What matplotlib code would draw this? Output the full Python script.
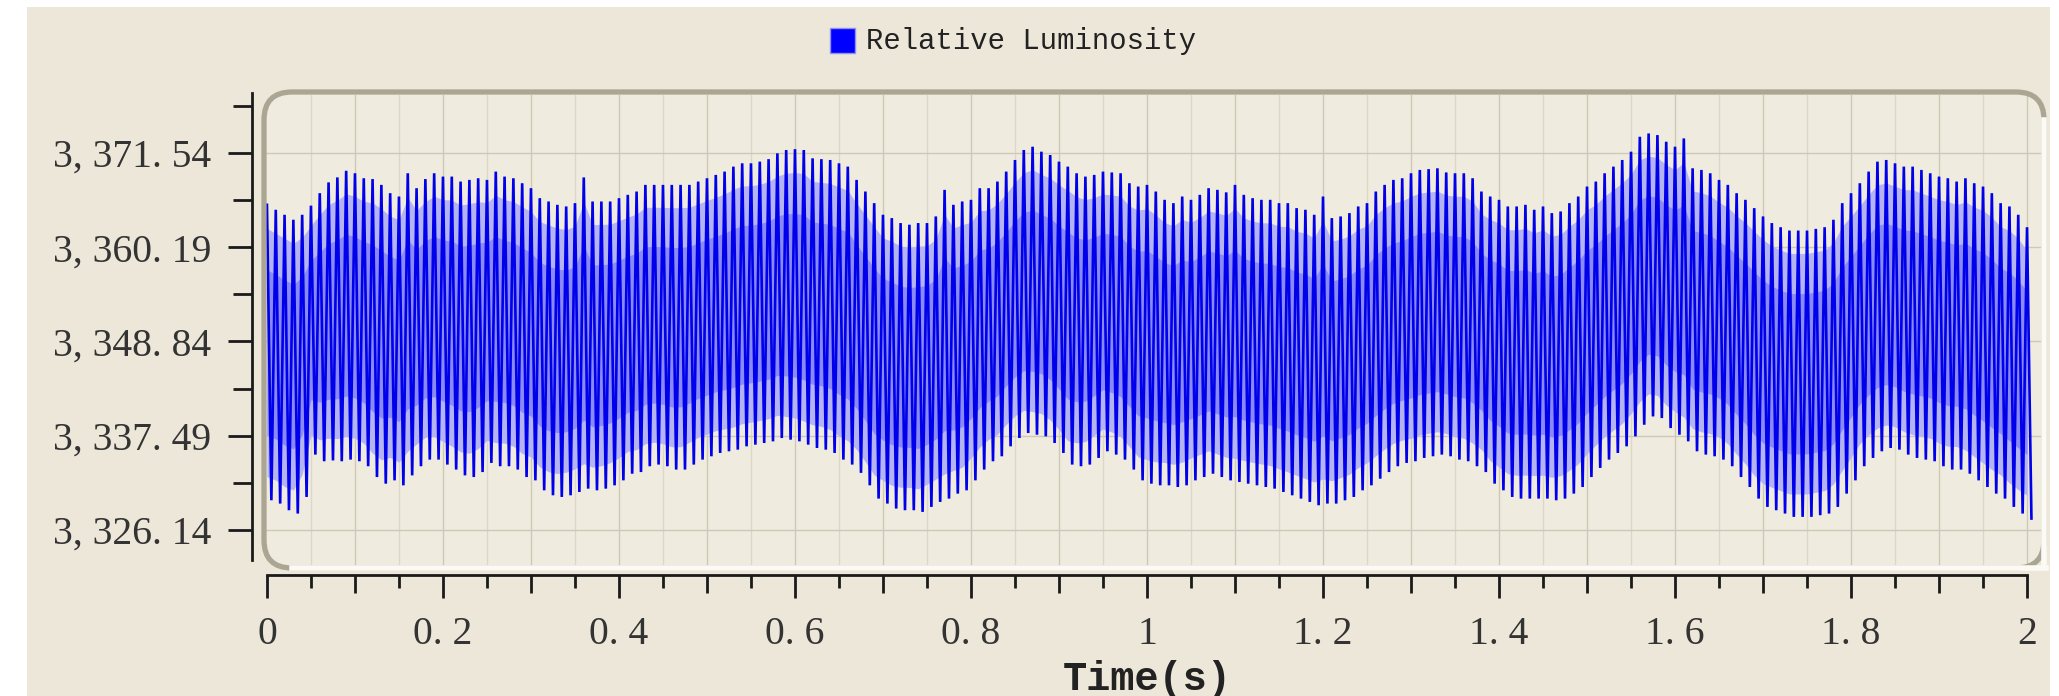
import numpy as np
import matplotlib
matplotlib.use("Agg")
import matplotlib.pyplot as plt
from matplotlib.patches import FancyBboxPatch, Rectangle
from matplotlib.lines import Line2D
from matplotlib.transforms import IdentityTransform

# ---------------- data ----------------
series_name = "Relative Luminosity"
x_label = "Time(s)"
cycle_period = 0.01          # s, one flicker cycle (100 Hz)

# peak value of every cycle, starting at t = 0
peak_values = [
    3365.3, 3364.7, 3364.1, 3363.5, 3364.1, 3365.2, 3366.7, 3368.0, 3368.6, 3369.4,
    3369.1, 3368.5, 3368.4, 3367.7, 3366.7, 3366.3, 3369.1, 3367.3, 3368.4, 3369.1,
    3368.7, 3368.7, 3368.1, 3368.3, 3368.5, 3368.3, 3369.3, 3368.7, 3368.5, 3367.9,
    3367.3, 3366.1, 3365.7, 3365.3, 3365.1, 3365.5, 3368.6, 3365.7, 3365.7, 3365.7,
    3366.1, 3366.5, 3366.9, 3367.7, 3367.7, 3367.7, 3367.7, 3367.7, 3367.7, 3368.1,
    3368.5, 3368.9, 3369.3, 3369.9, 3370.3, 3370.3, 3370.5, 3370.8, 3371.5, 3371.9,
    3372.0, 3371.9, 3370.9, 3370.8, 3370.7, 3370.3, 3369.9, 3368.3, 3366.9, 3365.5,
    3364.1, 3363.7, 3363.1, 3362.9, 3363.1, 3363.1, 3363.9, 3367.1, 3365.3, 3365.7,
    3365.9, 3367.3, 3367.3, 3368.1, 3369.3, 3370.7, 3371.9, 3372.3, 3371.7, 3371.3,
    3370.5, 3369.9, 3369.1, 3368.7, 3368.9, 3369.3, 3369.2, 3369.1, 3367.9, 3367.5,
    3367.7, 3366.9, 3365.9, 3365.5, 3366.3, 3365.9, 3366.5, 3367.3, 3367.1, 3366.8,
    3367.7, 3366.5, 3366.1, 3365.9, 3365.9, 3365.5, 3365.5, 3364.9, 3364.7, 3364.1,
    3366.3, 3363.7, 3363.9, 3364.3, 3365.1, 3365.5, 3366.9, 3367.7, 3368.3, 3368.5,
    3369.1, 3369.5, 3369.6, 3369.7, 3369.2, 3369.1, 3369.1, 3368.5, 3366.9, 3366.3,
    3365.9, 3365.1, 3365.1, 3365.3, 3364.7, 3365.1, 3364.3, 3364.5, 3365.5, 3366.3,
    3367.5, 3368.1, 3369.1, 3369.9, 3370.7, 3371.7, 3373.5, 3373.9, 3373.7, 3372.9,
    3372.3, 3373.3, 3369.7, 3369.5, 3369.1, 3368.3, 3367.7, 3366.7, 3365.9, 3364.9,
    3363.9, 3363.1, 3362.6, 3362.2, 3362.2, 3362.2, 3362.4, 3362.6, 3363.5, 3365.5,
    3366.7, 3367.9, 3369.3, 3370.5, 3370.7, 3370.3, 3369.9, 3369.9, 3369.5, 3369.1,
    3368.7, 3368.5, 3368.1, 3368.5, 3367.9, 3367.5, 3366.7, 3365.5, 3365.1, 3364.1,
    3362.6,
]

# trough value of every cycle (half a cycle after each peak)
trough_values = [
    3329.7, 3329.3, 3328.5, 3328.1, 3330.1, 3335.2, 3334.4, 3334.5, 3334.4, 3334.6,
    3334.4, 3333.8, 3332.5, 3331.7, 3332.1, 3331.5, 3332.7, 3333.8, 3334.6, 3334.6,
    3334.0, 3333.4, 3332.7, 3332.5, 3333.1, 3334.2, 3333.8, 3333.8, 3333.4, 3332.5,
    3332.1, 3330.9, 3330.3, 3330.1, 3330.3, 3330.7, 3331.1, 3330.9, 3331.1, 3331.5,
    3332.1, 3332.9, 3333.1, 3333.8, 3334.0, 3333.8, 3333.4, 3333.4, 3334.0, 3334.6,
    3335.0, 3335.4, 3335.6, 3335.8, 3336.2, 3336.4, 3336.6, 3336.8, 3337.2, 3337.0,
    3336.8, 3336.4, 3336.0, 3335.8, 3335.4, 3334.6, 3334.0, 3333.0, 3331.5, 3329.9,
    3329.3, 3328.7, 3328.5, 3328.5, 3328.3, 3328.9, 3329.5, 3329.9, 3330.5, 3330.9,
    3332.1, 3333.4, 3334.4, 3335.0, 3336.2, 3337.2, 3337.8, 3337.6, 3337.4, 3336.6,
    3335.4, 3334.0, 3333.8, 3334.0, 3334.8, 3335.6, 3335.2, 3334.6, 3333.4, 3332.1,
    3331.7, 3331.5, 3331.5, 3331.3, 3331.5, 3332.1, 3332.5, 3332.9, 3332.5, 3332.1,
    3331.9, 3331.7, 3331.5, 3331.3, 3331.1, 3330.7, 3330.3, 3329.9, 3329.5, 3329.1,
    3329.3, 3329.3, 3329.7, 3330.1, 3330.9, 3331.5, 3332.3, 3333.1, 3333.8, 3334.2,
    3334.4, 3334.8, 3335.0, 3335.2, 3335.0, 3334.6, 3334.4, 3333.8, 3333.1, 3331.7,
    3330.9, 3330.1, 3329.9, 3329.9, 3329.9, 3329.9, 3329.7, 3329.9, 3330.5, 3331.3,
    3332.5, 3333.6, 3334.6, 3335.4, 3336.2, 3337.4, 3338.8, 3339.8, 3339.6, 3338.4,
    3337.6, 3336.8, 3335.6, 3335.2, 3335.0, 3334.6, 3333.8, 3332.5, 3331.3, 3329.9,
    3328.9, 3328.5, 3328.1, 3327.7, 3327.7, 3327.7, 3327.9, 3328.1, 3328.9, 3330.5,
    3332.1, 3333.8, 3334.8, 3335.6, 3336.0, 3335.8, 3335.2, 3334.8, 3334.6, 3334.4,
    3333.8, 3333.4, 3333.4, 3332.9, 3332.1, 3331.3, 3330.5, 3329.9, 3328.9, 3328.1,
    3327.5,
]

y_major_ticks = [3326.14, 3337.49, 3348.84, 3360.19, 3371.54]
y_minor_ticks = [3331.815, 3343.165, 3354.515, 3365.865, 3377.215]
x_major_ticks = [0, 0.2, 0.4, 0.6, 0.8, 1.0, 1.2, 1.4, 1.6, 1.8, 2.0]
x_tick_labels = ["0", "0. 2", "0. 4", "0. 6", "0. 8", "1", "1. 2", "1. 4", "1. 6", "1. 8", "2"]
x_mid_ticks = [0.1, 0.3, 0.5, 0.7, 0.9, 1.1, 1.3, 1.5, 1.7, 1.9]

# ---------------- build the polyline ----------------
n = len(peak_values)
pk = np.array(peak_values)
tr = np.array(trough_values)
t_peak = np.arange(n) * cycle_period
t_trough = t_peak + cycle_period / 2
t = np.empty(2 * n)
y = np.empty(2 * n)
t[0::2], t[1::2] = t_peak, t_trough
y[0::2], y[1::2] = pk, tr
amp = pk - tr

# ---------------- figure ----------------
W, H = 2059, 696
fig = plt.figure(figsize=(W / 100, H / 100), dpi=100, facecolor="white")
MONO = ["Liberation Mono", "DejaVu Sans Mono"]
SERIF = ["Liberation Serif", "DejaVu Serif"]


def fx(px):
    return px / W


def fy(py):
    return 1 - py / H


BG = "#ECE7D9"
PLOT_BG = "#EFEBDF"
GRID_D = "#CFC8B6"
GRID_L = "#DDD7C7"

fig.patches.append(Rectangle((fx(27), 0), fx(2050) - fx(27), fy(7),
                             transform=fig.transFigure, facecolor=BG,
                             edgecolor="none", zorder=-10))
# rounded plot interior fill
fig.patches.append(FancyBboxPatch((264, H - 568), 2044 - 264, 568 - 92,
                                  boxstyle="round,pad=0,rounding_size=28",
                                  transform=IdentityTransform(),
                                  facecolor=PLOT_BG, edgecolor="none", zorder=-5))

ax = fig.add_axes([fx(266), fy(566), fx(2042) - fx(266), fy(95) - fy(566)])
ax.set_facecolor("none")
ax.set_xlim(-0.0011, 2.017)
ax.set_ylim(3321.78, 3378.53)

# grid
for gx in np.arange(0.05, 2.01, 0.05):
    dark = abs(round(gx / 0.1) * 0.1 - gx) < 1e-6
    ax.axvline(gx, color=GRID_D if dark else GRID_L, lw=1.0, zorder=1)
for gy in y_major_ticks:
    ax.axhline(gy, color=GRID_D, lw=1.0, zorder=1)

# light blue body between the strokes (inner part of each swing), then the strokes
ax.fill_between(t_peak, tr + 0.22 * amp, pk - 0.22 * amp, color="#8A8AF6", lw=0, zorder=2)
ax.fill_between(t_peak, tr + 0.08 * amp, pk - 0.08 * amp, color="#B4B4F2", lw=0, zorder=1.5)
ax.plot(t, y, color="#0000EA", lw=1.9, zorder=3, solid_joinstyle="miter")

# spines
for s in ("top", "right"):
    ax.spines[s].set_visible(False)
ax.spines["left"].set_position(("outward", 10.1))
ax.spines["left"].set_bounds(3322.53, 3378.77)
ax.spines["bottom"].set_position(("outward", 6.5))
ax.spines["bottom"].set_bounds(0, 2)
for s in ("left", "bottom"):
    ax.spines[s].set_linewidth(2.0)
    ax.spines[s].set_color("#1a1a1a")

ax.set_yticks(y_major_ticks)
ax.set_yticklabels([f"{v:,.2f}".replace(",", ", ").replace(".", ". ") for v in y_major_ticks])
ax.set_yticks(y_minor_ticks, minor=True)
ax.set_xticks(x_major_ticks)
ax.set_xticklabels(x_tick_labels)
ax.set_xticks(np.arange(0.05, 2.0, 0.1), minor=True)
ax.tick_params(axis="y", which="major", length=17.3, width=2, pad=12, color="#1a1a1a",
               labelsize=28.5, labelcolor="#333333")
ax.tick_params(axis="y", which="minor", length=13.7, width=2, color="#1a1a1a")
ax.tick_params(axis="x", which="major", length=16.5, width=2, pad=13, color="#1a1a1a",
               labelsize=28.5, labelcolor="#333333")
ax.tick_params(axis="x", which="minor", length=9.4, width=2, color="#1a1a1a")
for lab in ax.get_xticklabels() + ax.get_yticklabels():
    lab.set_fontfamily(SERIF)

# medium ticks at odd tenths
ax2 = ax.twiny()
ax2.set_xlim(ax.get_xlim())
ax2.set_facecolor("none")
for s in ax2.spines.values():
    s.set_visible(False)
ax2.xaxis.set_ticks_position("bottom")
ax2.spines["bottom"].set_position(("outward", 6.5))
ax2.set_xticks(x_mid_ticks)
ax2.set_xticklabels([])
ax2.tick_params(axis="x", length=13, width=2, color="#1a1a1a")

# frame border (grey top/left, white bottom/right)
fig.patches.append(FancyBboxPatch((264, H - 568), 2044 - 264, 568 - 92,
                                  boxstyle="round,pad=0,rounding_size=28",
                                  transform=IdentityTransform(),
                                  facecolor="none", edgecolor="#ABA593",
                                  lw=3.8, zorder=5))
fig.lines.append(Line2D([292, 2046], [H - 568, H - 568], transform=IdentityTransform(),
                        color="#FBFAF5", lw=4.0, zorder=6))
fig.lines.append(Line2D([2044, 2044], [H - 566, H - 120], transform=IdentityTransform(),
                        color="#FBFAF5", lw=4.0, zorder=6))

# legend
fig.patches.append(Rectangle((830, H - 53), 25, 25, transform=IdentityTransform(),
                             facecolor="#0000FF", edgecolor="#9090F0", lw=1.0, zorder=6))
fig.text(fx(866), fy(41), series_name, ha="left", va="center", fontsize=20.8,
         family=MONO, color="#222222")

# x label
fig.text(fx(1147), fy(679), x_label, ha="center", va="center", fontsize=29,
         family=MONO, fontweight="bold", color="#222222")

fig.savefig("out.png", dpi=100, facecolor="white")
